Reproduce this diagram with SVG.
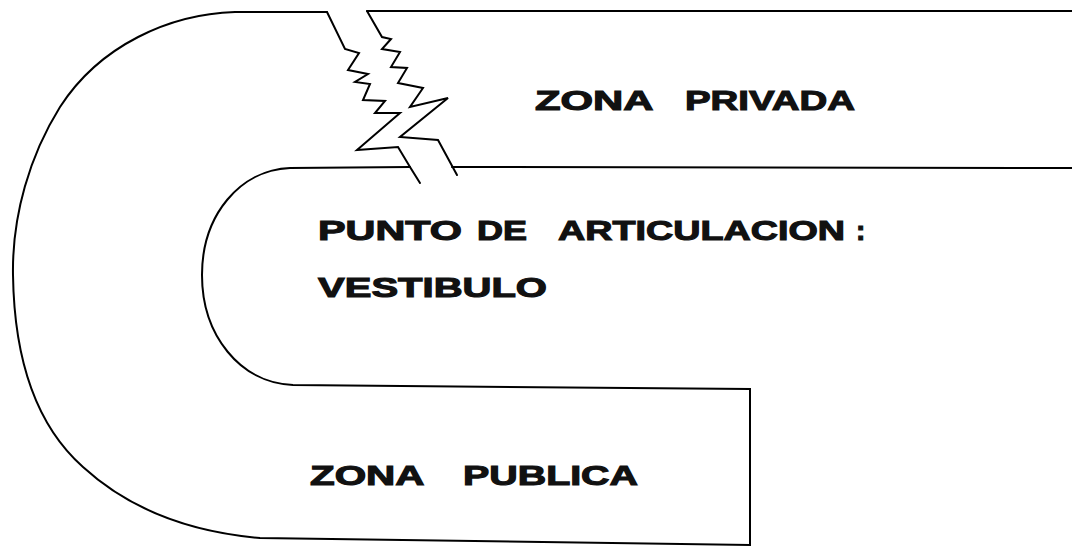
<svg xmlns="http://www.w3.org/2000/svg" width="1072" height="548" viewBox="0 0 1072 548">
<style>
.ln{fill:none;stroke:#000;stroke-width:2;stroke-linejoin:miter;stroke-linecap:round}
.lb{font-family:"Liberation Sans",Arial,sans-serif;font-weight:bold;font-size:28px;fill:#111;stroke:#111;stroke-width:1.1}
</style>
<rect width="1072" height="548" fill="#fff"/>
<g id="outlines">
<path class="ln" d="M327 12 L235 12 C170 14 100 45 60 107 C30 155 12 215 13 275 C14 345 30 420 83 467 C130 510 190 532 260 538 L750 545 L750 389 L293 385 C240 383 202 335 202 275 C202 215 240 170 290 168 L410 167"/>
<path class="ln" d="M367 11 L1072 11"/>
<path class="ln" d="M452 167 L1072 168"/>
</g>
<g id="break">
<polyline class="ln" points="327,12 345,49 359,53 348,70 368,74 355,82 370,84 363,100 385,101 375,113 400,113 357,150 398,147 410,167 420,183"/>
<polyline class="ln" points="367,11 382,37 391,39 382,49 400,52 391,67 407,68 398,83 423,88 410,107 448,98 400,137 438,140 457,175"/>
</g>
<g id="zona-privada">
<text class="lb" y="110"><tspan x="535" textLength="117" lengthAdjust="spacingAndGlyphs">ZONA</tspan> <tspan x="685" textLength="170" lengthAdjust="spacingAndGlyphs">PRIVADA</tspan></text>
</g>
<g id="vestibulo">
<text class="lb" y="240"><tspan x="318" textLength="144" lengthAdjust="spacingAndGlyphs">PUNTO</tspan> <tspan x="477" textLength="50" lengthAdjust="spacingAndGlyphs">DE</tspan> <tspan x="558" textLength="287" lengthAdjust="spacingAndGlyphs">ARTICULACION</tspan> <tspan x="856">:</tspan></text>
<text class="lb" y="297"><tspan x="318" textLength="229" lengthAdjust="spacingAndGlyphs">VESTIBULO</tspan></text>
</g>
<g id="zona-publica">
<text class="lb" y="485"><tspan x="310" textLength="113" lengthAdjust="spacingAndGlyphs">ZONA</tspan> <tspan x="463" textLength="175" lengthAdjust="spacingAndGlyphs">PUBLICA</tspan></text>
</g>
</svg>
